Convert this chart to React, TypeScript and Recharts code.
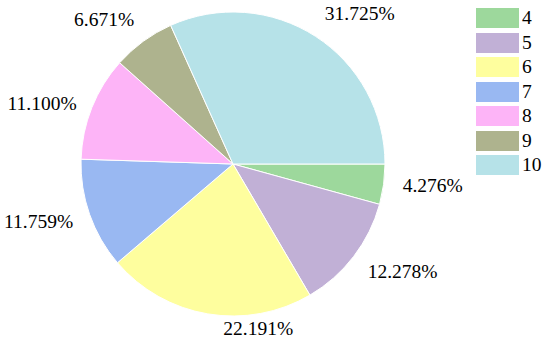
import React from "react";
import { PieChart, Pie, Cell, Legend } from "recharts";

// slice names, share (%) and fill colours, clockwise from 3 o'clock
const categories = ["4", "5", "6", "7", "8", "9", "10"];
const shares = [4.276, 12.278, 22.191, 11.759, 11.1, 6.671, 31.725];
const colors = ["#9dd89c", "#c1b0d6", "#fefe9e", "#99b8f2", "#fdb4f7", "#aeb38e", "#b6e2e8"];

const data = categories.map((name, i) => ({ name, value: shares[i] }));

const RADIAN = Math.PI / 180;
const FONT = "Liberation Serif, DejaVu Serif, Times New Roman, serif";

// small hand nudges so labels sit where the original put them
const NUDGE: Record<number, [number, number, "start" | "end"]> = {
  0: [4, -1, "start"],
  1: [2, 6, "start"],
  2: [18, 0, "start"],
  3: [-2, 2, "end"],
  4: [-1, 2, "end"],
  5: [0, -10, "end"],
  6: [1, -10, "start"],
};

const renderLabel = ({ cx, cy, midAngle, outerRadius, index }: any) => {
  const r = outerRadius * 1.1;
  const x = cx + r * Math.cos(-midAngle * RADIAN);
  const y = cy + r * Math.sin(-midAngle * RADIAN);
  const [dx, dy, anchor] = NUDGE[index];
  return (
    <text
      x={x + dx}
      y={y + dy}
      fill="#000"
      style={{ fontFamily: FONT, fontSize: 19.5 }}
      textAnchor={anchor}
      dominantBaseline="central"
    >
      {shares[index].toFixed(3)}%
    </text>
  );
};

const LegendBox = () => (
  <div style={{ fontFamily: FONT, fontSize: 19.5, color: "#000" }}>
    {categories.map((c, i) => (
      <div key={c} style={{ display: "flex", alignItems: "center", height: 24.5 }}>
        <span style={{ display: "inline-block", width: 43, height: 20, background: colors[i], marginRight: 3 }} />
        <span style={{ lineHeight: "20px" }}>{c}</span>
      </div>
    ))}
  </div>
);

export default function App() {
  return (
    <div style={{ position: "absolute", top: 0, left: 0, width: 550, height: 347, background: "#fff" }}>
      <PieChart width={550} height={347} margin={{ top: 0, right: 0, bottom: 0, left: 0 }}>
        <Pie
          data={data}
          dataKey="value"
          nameKey="name"
          cx={233}
          cy={164}
          outerRadius={152}
          startAngle={0}
          endAngle={-360}
          stroke="#fff"
          strokeWidth={1}
          label={renderLabel}
          labelLine={false}
          isAnimationActive={false}
        >
          {data.map((d, i) => (
            <Cell key={d.name} fill={colors[i]} />
          ))}
        </Pie>
        <Legend
          layout="vertical"
          verticalAlign="top"
          align="right"
          content={<LegendBox />}
          wrapperStyle={{ top: 6, left: 476, width: 74 }}
        />
      </PieChart>
    </div>
  );
}
